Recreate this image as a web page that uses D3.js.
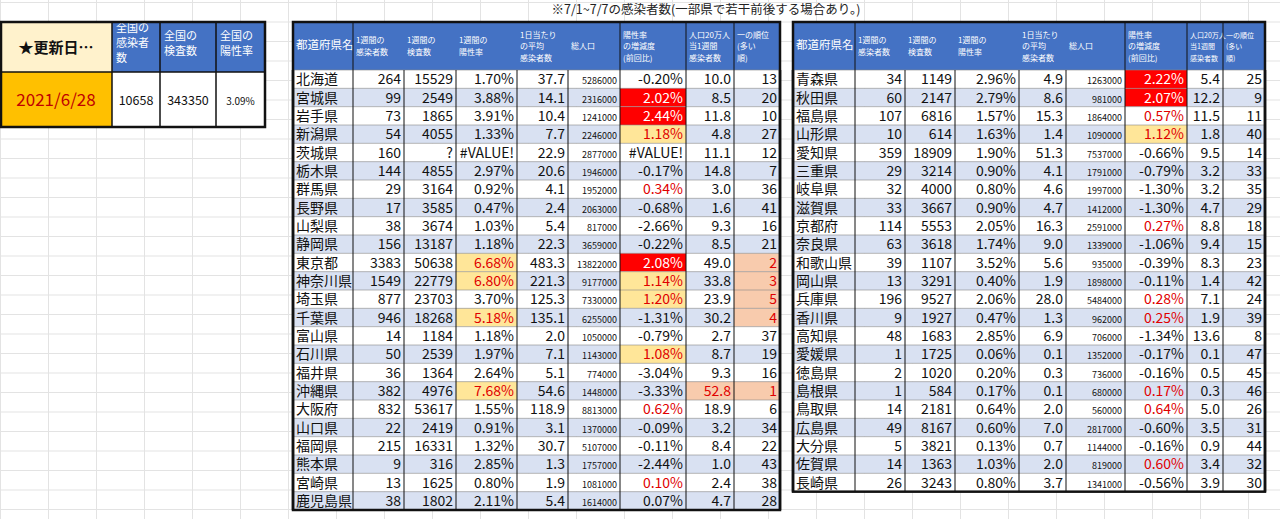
<!DOCTYPE html>
<html><head><meta charset="utf-8">
<script src="https://cdn.jsdelivr.net/npm/d3@7"></script>
<style>body{margin:0;background:#fff}svg{display:block;font-family:"Noto Sans CJK JP",sans-serif}</style>
</head><body>
<script>
// data
const headers = ["都道府県名","1週間の\n感染者数","1週間の\n検査数","1週間の\n陽性率","1日当たり\nの平均\n感染者数","総人口","陽性率\nの増減度\n(前回比)","人口20万人\n当1週間\n感染者数","一の順位\n(多い\n順)"];
const prefA = ["北海道","宮城県","岩手県","新潟県","茨城県","栃木県","群馬県","長野県","山梨県","静岡県","東京都","神奈川県","埼玉県","千葉県","富山県","石川県","福井県","沖縄県","大阪府","山口県","福岡県","熊本県","宮崎県","鹿児島県"];
const casesA = ["264","99","73","54","160","144","29","17","38","156","3383","1549","877","946","14","50","36","382","832","22","215","9","13","38"];
const testsA = ["15529","2549","1865","4055","?","4855","3164","3585","3674","13187","50638","22779","23703","18268","1184","2539","1364","4976","53617","2419","16331","316","1625","1802"];
const rateA = ["1.70%","3.88%","3.91%","1.33%","#VALUE!","2.97%","0.92%","0.47%","1.03%","1.18%","6.68%","6.80%","3.70%","5.18%","1.18%","1.97%","2.64%","7.68%","1.55%","0.91%","1.32%","2.85%","0.80%","2.11%"];
const avgA = ["37.7","14.1","10.4","7.7","22.9","20.6","4.1","2.4","5.4","22.3","483.3","221.3","125.3","135.1","2.0","7.1","5.1","54.6","118.9","3.1","30.7","1.3","1.9","5.4"];
const popA = ["5286000","2316000","1241000","2246000","2877000","1946000","1952000","2063000","817000","3659000","13822000","9177000","7330000","6255000","1050000","1143000","774000","1448000","8813000","1370000","5107000","1757000","1081000","1614000"];
const chgA = ["-0.20%","2.02%","2.44%","1.18%","#VALUE!","-0.17%","0.34%","-0.68%","-2.66%","-0.22%","2.08%","1.14%","1.20%","-1.31%","-0.79%","1.08%","-3.04%","-3.33%","0.62%","-0.09%","-0.11%","-2.44%","0.10%","0.07%"];
const per20A = ["10.0","8.5","11.8","4.8","11.1","14.8","3.0","1.6","9.3","8.5","49.0","33.8","23.9","30.2","2.7","8.7","9.3","52.8","18.9","3.2","8.4","1.0","2.4","4.7"];
const rankA = ["13","20","10","27","12","7","36","41","16","21","2","3","5","4","37","19","16","1","6","34","22","43","38","28"];
// highlight flags: R = red fill, O = light orange fill, P = peach fill
const rateFlagA = ["","","","","","","","","","","O","O","","O","","","","O","","","","","",""];
const chgFlagA = ["","R","R","O","","","","","","","R","O","O","","","O","","","","","","","",""];
const perFlagA = ["","","","","","","","","","","","","","","","","","P","","","","","",""];
const rankFlagA = ["","","","","","","","","","","P","P","P","P","","","","P","","","","","",""];

const prefB = ["青森県","秋田県","福島県","山形県","愛知県","三重県","岐阜県","滋賀県","京都府","奈良県","和歌山県","岡山県","兵庫県","香川県","高知県","愛媛県","徳島県","島根県","鳥取県","広島県","大分県","佐賀県","長崎県"];
const casesB = ["34","60","107","10","359","29","32","33","114","63","39","13","196","9","48","1","2","1","14","49","5","14","26"];
const testsB = ["1149","2147","6816","614","18909","3214","4000","3667","5553","3618","1107","3291","9527","1927","1683","1725","1020","584","2181","8167","3821","1363","3243"];
const rateB = ["2.96%","2.79%","1.57%","1.63%","1.90%","0.90%","0.80%","0.90%","2.05%","1.74%","3.52%","0.40%","2.06%","0.47%","2.85%","0.06%","0.20%","0.17%","0.64%","0.60%","0.13%","1.03%","0.80%"];
const avgB = ["4.9","8.6","15.3","1.4","51.3","4.1","4.6","4.7","16.3","9.0","5.6","1.9","28.0","1.3","6.9","0.1","0.3","0.1","2.0","7.0","0.7","2.0","3.7"];
const popB = ["1263000","981000","1864000","1090000","7537000","1791000","1997000","1412000","2591000","1339000","935000","1898000","5484000","962000","706000","1352000","736000","680000","560000","2817000","1144000","819000","1341000"];
const chgB = ["2.22%","2.07%","0.57%","1.12%","-0.66%","-0.79%","-1.30%","-1.30%","0.27%","-1.06%","-0.39%","-0.11%","0.28%","0.25%","-1.34%","-0.17%","-0.16%","0.17%","0.64%","-0.60%","-0.16%","0.60%","-0.56%"];
const per20B = ["5.4","12.2","11.5","1.8","9.5","3.2","3.2","4.7","8.8","9.4","8.3","1.4","7.1","1.9","13.6","0.1","0.5","0.3","5.0","3.5","0.9","3.4","3.9"];
const rankB = ["25","9","11","40","14","33","35","29","18","15","23","42","24","39","8","47","45","46","26","31","44","32","30"];
const chgFlagB = ["R","R","","O","","","","","","","","","","","","","","","","","","",""];

const natHeaders = ["全国の\n感染者\n数","全国の\n検査数","全国の\n陽性率"];
const natValues = ["10658","343350","3.09%"];
const updated = "2021/6/28";

const W = 1280, H = 519;
const svg = d3.select("body").append("svg").attr("width", W).attr("height", H);

// spreadsheet gridlines
const gy = d3.range(0, H, 19.5), gx = [0,48,96,144,192,240,288,336,384,432,480,528,576,624,672,720,768,816,864,912,960,1008,1056,1104,1152,1200,1248];
svg.append("g").selectAll("line").data(gy).join("line")
  .attr("x1",0).attr("x2",W).attr("y1",d=>d+2.5).attr("y2",d=>d+2.5).attr("stroke","#e3e3e3");
svg.append("g").selectAll("line").data(gx).join("line")
  .attr("y1",0).attr("y2",H).attr("x1",d=>d+0.5).attr("x2",d=>d+0.5).attr("stroke","#e3e3e3");

svg.append("text").attr("x", 706).attr("y", 14).attr("text-anchor","middle")
  .attr("font-size", 12.5).attr("fill","#222").text("※7/1~7/7の感染者数(一部県で若干前後する場合あり。)");

const fillFor = {R:"#ff0000", O:"#ffe699", P:"#f8cbad", "":null};

function multiText(g, str, x, y, lh, anchor) {
  const lines = str.split("\n");
  const t = g.append("text").attr("text-anchor", anchor || "start");
  lines.forEach((l, i) => t.append("tspan").attr("x", x).attr("y", y + (i - (lines.length-1)/2) * lh).text(l));
  return t;
}

function drawTable(x0, colEdges, rows, nRows) {
  const g = svg.append("g");
  const top = 22, headH = 48, rowH = (510 - 70) / 24;
  const y = d3.scaleBand().domain(d3.range(nRows)).range([top+headH, top+headH+rowH*nRows]);
  const xs = colEdges.map(e => x0 + e);
  // header
  g.append("rect").attr("x", xs[0]).attr("y", top).attr("width", xs[xs.length-1]-xs[0]).attr("height", headH).attr("fill","#4472c4");
  headers.forEach((h, i) => {
    const w = xs[i+1] - xs[i];
    const fs = i === 0 ? 11.5 : (w < 45 ? 7 : 8);
    const t = multiText(g, h, xs[i] + 3, top + headH/2 + 3, i===0?0:11.5, "start");
    t.attr("fill","#fff").attr("font-size", fs);
  });
  // rows
  d3.range(nRows).forEach(r => {
    g.append("rect").attr("x", xs[0]).attr("y", y(r)).attr("width", xs[xs.length-1]-xs[0]).attr("height", y.bandwidth())
      .attr("fill", r % 2 ? "#d9e1f2" : "#fff");
    rows.forEach((col, c) => {
      const flag = col.flags ? col.flags[r] : "";
      if (fillFor[flag]) g.append("rect").attr("x", xs[c]).attr("y", y(r)).attr("width", xs[c+1]-xs[c]).attr("height", y.bandwidth()).attr("fill", fillFor[flag]);
      const v = col.vals[r];
      let color = "#111";
      if (col.posRed && !v.startsWith("-") && v !== "#VALUE!" && v !== "0.07%") color = "#e00000";
      if (col.redOnFlag && flag) color = "#e00000";
      if (flag === "R") color = "#fff";
      const left = c === 0;
      g.append("text").attr("x", left ? xs[c]+3 : xs[c+1]-3).attr("y", y(r) + y.bandwidth()/2 + 5)
        .attr("text-anchor", left ? "start" : "end")
        .attr("font-size", col.small ? 9 : 14).attr("font-family", col.small ? "Noto Sans CJK JP" : "'Liberation Sans Narrow','Noto Sans CJK JP'")
        .attr("fill", color).text(v);
    });
    g.append("line").attr("x1", xs[0]).attr("x2", xs[xs.length-1]).attr("y1", y(r)).attr("y2", y(r)).attr("stroke","#888").attr("stroke-width",0.6);
  });
  const bottom = top + headH + rowH*nRows;
  xs.forEach((xx, i) => g.append("line").attr("x1", xx).attr("x2", xx).attr("y1", top + headH).attr("y2", bottom)
    .attr("stroke","#111").attr("stroke-width", (i===0||i===xs.length-1)?2.5:1));
  g.append("line").attr("x1", xs[1]).attr("x2", xs[1]).attr("y1", top).attr("y2", top+headH).attr("stroke","#111").attr("stroke-width",1);
  [6,7,8].forEach(i => g.append("line").attr("x1", xs[i]).attr("x2", xs[i]).attr("y1", top).attr("y2", top+headH).attr("stroke","#111").attr("stroke-width",1));
  g.append("rect").attr("x", xs[0]).attr("y", top).attr("width", xs[xs.length-1]-xs[0]).attr("height", bottom-top)
    .attr("fill","none").attr("stroke","#111").attr("stroke-width",2.5);
}

drawTable(293, [0,60,111,163,224,275,327,393,441,487], [
  {vals: prefA}, {vals: casesA}, {vals: testsA}, {vals: rateA, flags: rateFlagA, redOnFlag: true},
  {vals: avgA}, {vals: popA, small: true}, {vals: chgA, flags: chgFlagA, posRed: true},
  {vals: per20A, flags: perFlagA, redOnFlag: true}, {vals: rankA, flags: rankFlagA, redOnFlag: true}
], prefA.length);

drawTable(793, [0,62,112,162,226,273,332,394,430,472], [
  {vals: prefB}, {vals: casesB}, {vals: testsB}, {vals: rateB},
  {vals: avgB}, {vals: popB, small: true}, {vals: chgB, flags: chgFlagB, posRed: true},
  {vals: per20B}, {vals: rankB}
], prefB.length);

// national summary block
const L = svg.append("g");
const lx = [0,112,160,216,265], lt = 22, lm = 72, lb = 127;
L.append("rect").attr("x",0).attr("y",lt).attr("width",112).attr("height",lm-lt).attr("fill","#fff2cc");
L.append("rect").attr("x",112).attr("y",lt).attr("width",153).attr("height",lm-lt).attr("fill","#4472c4");
L.append("rect").attr("x",0).attr("y",lm).attr("width",112).attr("height",lb-lm).attr("fill","#ffc000");
L.append("rect").attr("x",112).attr("y",lm).attr("width",153).attr("height",lb-lm).attr("fill","#fff");
L.append("text").attr("x",56).attr("y",53).attr("text-anchor","middle").attr("font-size",15).attr("font-weight","bold").attr("fill","#111").text("★更新日…");
L.append("text").attr("x",56).attr("y",106).attr("text-anchor","middle").attr("font-size",17).attr("fill","#c00000").text(updated);
natHeaders.forEach((h, i) => multiText(L, h, lx[i+1]+4, 47, 15, "start").attr("fill","#fff").attr("font-size",11));
natValues.forEach((v, i) => L.append("text").attr("x",(lx[i+1]+lx[i+2])/2).attr("y",105).attr("text-anchor","middle")
  .attr("font-size", i===2?10:12.5).attr("fill","#111").text(v));
lx.forEach(xx => L.append("line").attr("x1",xx).attr("x2",xx).attr("y1",lt).attr("y2",lb).attr("stroke","#111").attr("stroke-width",1.5));
L.append("line").attr("x1",0).attr("x2",265).attr("y1",lm).attr("y2",lm).attr("stroke","#111").attr("stroke-width",1.5);
L.append("rect").attr("x",1).attr("y",lt).attr("width",264).attr("height",lb-lt).attr("fill","none").attr("stroke","#111").attr("stroke-width",2.5);
</script>
</body></html>
